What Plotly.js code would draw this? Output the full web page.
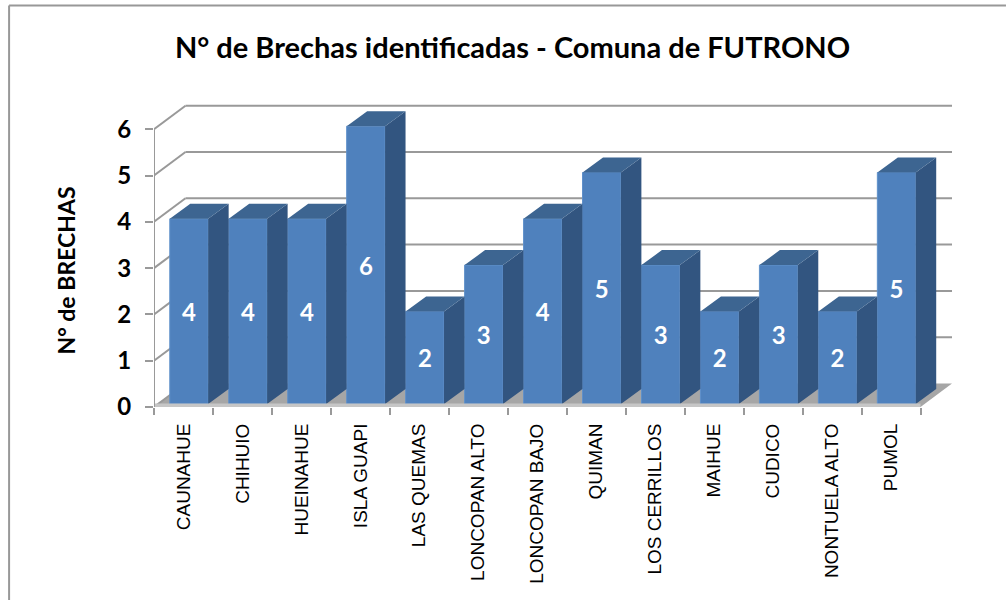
<!DOCTYPE html>
<html><head><meta charset="utf-8">
<script src="https://cdn.plot.ly/plotly-3.0.1.min.js"></script>
<style>html,body{margin:0;padding:0;background:#fff}#c{width:1006px;height:600px}</style>
</head><body><div id="c"></div>
<script>
const categories = ["CAUNAHUE","CHIHUIO","HUEINAHUE","ISLA GUAPI","LAS QUEMAS","LONCOPAN ALTO","LONCOPAN BAJO","QUIMAN","LOS CERRILLOS","MAIHUE","CUDICO","NONTUELA ALTO","PUMOL"];
const values = [4,4,4,6,2,3,4,5,3,2,3,2,5];
const yTicks = [0,1,2,3,4,5,6];

// Geometry in axis units (1 x unit = one category, 1 y unit = one gap)
const W=1006,H=600,L=153.5,R=953,T=100,B=407,PXX=59,PXY=46.3;
const xMax=(R-L)/PXX, yMax=(B-T)/PXY, n=categories.length;
const wallDx=31.5/PXX, wallDy=23.5/PXY;      // depth of the walls
const barW=38.4/PXX, barDx=20.5/PXX, barDy=15/PXY; // bar width and depth
const barOff=15.8/PXX, barBase=3/PXY;        // front face offset within the category
const GRID='#999999';

const shapes=[];
// floor
shapes.push({type:'path',xref:'x',yref:'y',layer:'below',line:{width:0},fillcolor:'#a6a6a6',
  path:`M0,0 L${n},0 L${n+wallDx},${wallDy} L${wallDx},${wallDy} Z`});
// back wall gridlines and side wall diagonals
yTicks.forEach(v=>{
  if(v>0) shapes.push({type:'line',xref:'x',yref:'y',layer:'below',x0:wallDx,x1:n+wallDx,y0:v+wallDy,y1:v+wallDy,line:{color:GRID,width:2}});
  shapes.push({type:'line',xref:'x',yref:'y',layer:'below',x0:0,x1:wallDx,y0:v,y1:v+wallDy,line:{color:GRID,width:2}});
});
// chart frame: top and left edges only
const fx=p=>(p-L)/(R-L), fy=p=>(B-p)/(B-T);
shapes.push({type:'line',xref:'paper',yref:'paper',x0:fx(8.5),x1:fx(W),y0:fy(5.5),y1:fy(5.5),line:{color:'#989898',width:2},layer:'below'});
shapes.push({type:'line',xref:'paper',yref:'paper',x0:fx(8.5),x1:fx(8.5),y0:fy(5.5),y1:fy(H),line:{color:'#989898',width:2},layer:'below'});

const sideX=[],sideY=[],topX=[],topY=[];
values.forEach((v,i)=>{
  const x0=i+barOff,x1=x0+barW,y0=barBase,y1=barBase+v;
  sideX.push(x1,x1+barDx,x1+barDx,x1,x1,null);
  sideY.push(y0,y0+barDy,y1+barDy,y1,y0,null);
  topX.push(x0,x1,x1+barDx,x0+barDx,x0,null);
  topY.push(y1,y1,y1+barDy,y1+barDy,y1,null);
});

const traces=[
 {type:'bar',x:values.map((v,i)=>i+barOff+barW/2),y:values,base:barBase,width:barW,
  marker:{color:'#4f81bd',line:{color:'#5f90ca',width:1}},
  text:values.map(String),textposition:'inside',insidetextanchor:'middle',textangle:0,
  textfont:{family:'Lato',size:24,color:'#fff',weight:700},hoverinfo:'skip'},
 {type:'scatter',mode:'lines',x:sideX,y:sideY,fill:'toself',fillcolor:'#325580',line:{width:0},hoverinfo:'skip'},
 {type:'scatter',mode:'lines',x:topX,y:topY,fill:'toself',fillcolor:'#3d6591',line:{width:0},hoverinfo:'skip'},
 // front floor edge and value axis line
 {type:'scatter',mode:'lines',x:[0,n],y:[0.03,0.03],line:{color:'#c6c6c6',width:4},cliponaxis:false,hoverinfo:'skip'},
 {type:'scatter',mode:'lines',x:[0,0],y:[0,6],line:{color:GRID,width:2},cliponaxis:false,hoverinfo:'skip'}
];

const layout={
 width:W,height:H,showlegend:false,paper_bgcolor:'#fff',plot_bgcolor:'rgba(0,0,0,0)',bargap:0,
 margin:{l:L,r:W-R,t:T,b:H-B,pad:0},
 title:{text:'N° de Brechas identificadas - Comuna de FUTRONO',font:{family:'Lato',size:29,color:'#000',weight:700},
   x:512.5/W,xanchor:'center',y:1-48/H,yanchor:'middle'},
 xaxis:{range:[0,xMax],showgrid:false,zeroline:false,showline:false,
   tickmode:'array',tickvals:categories.map((c,i)=>i+0.5),ticktext:categories,
   ticks:'outside',ticklen:8,tickcolor:'rgba(0,0,0,0)',tickangle:-90,
   tickfont:{family:'Liberation Sans',size:19,color:'#000'},
   minor:{tickmode:'array',tickvals:Array.from({length:n+1},(_,i)=>i),ticks:'outside',ticklen:7,tickwidth:2,tickcolor:GRID,showgrid:false}},
 yaxis:{range:[0,yMax],showgrid:false,zeroline:false,showline:false,
   tickmode:'array',tickvals:yTicks,ticktext:yTicks.map(String),
   ticks:'outside',ticklen:8,tickwidth:2,tickcolor:GRID,ticklabelstandoff:9,
   tickfont:{family:'Lato',size:24,color:'#000',weight:700}},
 annotations:[{text:'N° de BRECHAS',xref:'paper',yref:'paper',x:fx(65),y:fy(271),xanchor:'center',yanchor:'middle',textangle:-90,showarrow:false,
   font:{family:'Lato',size:23,color:'#000',weight:700}}],
 shapes
};
Plotly.newPlot('c',traces,layout,{displayModeBar:false,staticPlot:true});
</script></body></html>
